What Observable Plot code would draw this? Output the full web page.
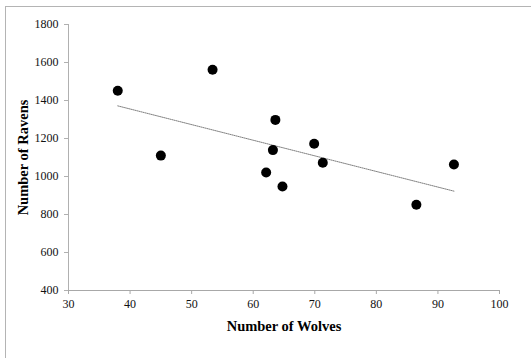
<!DOCTYPE html>
<html><head><meta charset="utf-8">
<script src="https://cdn.jsdelivr.net/npm/d3@7"></script>
<script src="https://cdn.jsdelivr.net/npm/@observablehq/plot@0.6"></script>
<style>
body{margin:0;background:#fff;}
#wrap{position:relative;width:531px;height:358px;overflow:hidden;background:#fff;}
#frame{position:absolute;left:5px;top:6px;width:600px;height:600px;border-left:1px solid #b4b4b4;border-top:1px solid #b4b4b4;}
#chart{position:absolute;left:0;top:0;}
g[aria-label="x-axis label"] text, g[aria-label="y-axis label"] text {font-weight:bold;font-size:14.5px;fill:#000;}
</style></head>
<body><div id="wrap"><div id="frame"></div><div id="chart"></div></div>
<script>
const wolves = [38.0, 45.0, 53.4, 63.6, 63.2, 62.1, 64.75, 69.9, 71.3, 86.5, 92.6];
const ravens = [1451, 1110, 1562, 1298, 1139, 1021, 947, 1172, 1072, 851, 1063];
const xTicks = [30, 40, 50, 60, 70, 80, 90, 100];
const yTicks = [400, 600, 800, 1000, 1200, 1400, 1600, 1800];
const xTitle = "Number of Wolves";
const yTitle = "Number of Ravens";

const data = wolves.map((w, i) => ({wolves: w, ravens: ravens[i]}));

const chart = Plot.plot({
  width: 531,
  height: 358,
  marginLeft: 68,
  marginRight: 32,
  marginTop: 24,
  marginBottom: 68,
  style: {fontFamily: "'Liberation Serif', 'Times New Roman', serif", fontSize: "12px", background: "transparent", color: "#111"},
  x: {domain: [30, 100]},
  y: {domain: [400, 1800]},
  marks: [
    Plot.ruleX([30], {stroke: "#b0b0b0"}),
    Plot.ruleY([400], {stroke: "#a8a8a8"}),
    Plot.axisX({ticks: xTicks, tickFormat: d => String(d), tickSize: 4, tickPadding: 5, stroke: "#a8a8a8", fill: "#111", label: xTitle, labelAnchor: "center", labelArrow: "none", labelOffset: 40}),
    Plot.axisY({ticks: yTicks, tickFormat: d => String(d), tickSize: 4, tickPadding: 6, stroke: "#b0b0b0", fill: "#111", label: yTitle, labelAnchor: "center", labelArrow: "none", labelOffset: 51}),
    Plot.linearRegressionY(data, {x: "wolves", y: "ravens", ci: 0, stroke: "#808080", strokeWidth: 1, strokeDasharray: "1,1"}),
    Plot.dot(data, {x: "wolves", y: "ravens", r: 5, fill: "#000", stroke: "none"})
  ]
});
document.getElementById("chart").appendChild(chart);
</script>
</body></html>
